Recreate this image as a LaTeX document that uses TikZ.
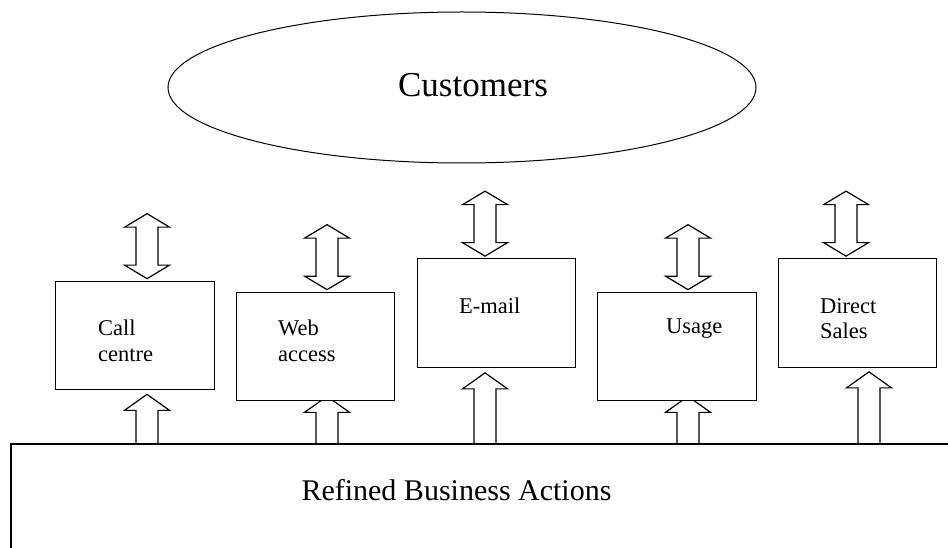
\documentclass[tikz,border=0pt]{standalone}
\usepackage{fontspec}
\setmainfont{Liberation Serif}
\usetikzlibrary{shapes.geometric, calc, backgrounds}

\begin{document}
\begin{tikzpicture}[x=1pt, y=-1pt,
	chanbox/.style={draw, fill=white, line width=1.2pt, minimum width=158.5pt, minimum height=108.5pt, inner sep=0pt},
	chantext/.style={anchor=north west, inner sep=0pt, align=left, font=\fontsize{22.5}{26}\selectfont},
	block/.style={draw, line width=1.2pt},
	upblock/.style={to path={let \p1=(\tikztostart), \p2=(\tikztotarget) in
		(\x2-11pt,\y1) -- (\x2-11pt,\y2-16pt) -- (\x2-22.5pt,\y2-16pt) -- (\x2,\y2)
		-- (\x2+22.5pt,\y2-16pt) -- (\x2+11pt,\y2-16pt) -- (\x2+11pt,\y1)}},
	dblblock/.style={to path={let \p1=(\tikztostart), \p2=(\tikztotarget) in
		(\x1,\y1) -- (\x1-22.5pt,\y1+13.5pt) -- (\x1-11pt,\y1+13.5pt) -- (\x1-11pt,\y2-13.5pt)
		-- (\x1-22.5pt,\y2-13.5pt) -- (\x1,\y2) -- (\x1+22.5pt,\y2-13.5pt) -- (\x1+11pt,\y2-13.5pt)
		-- (\x1+11pt,\y1+13.5pt) -- (\x1+22.5pt,\y1+13.5pt) -- cycle}}]
	\useasboundingbox (0,0) rectangle (948,548);
	\clip (0,0) rectangle (948,548);
	\node[ellipse, draw, line width=1pt, minimum width=588pt, minimum height=151pt, inner sep=0pt] (cust) at (462,87.5) {};
	\node[anchor=base, font=\fontsize{35}{42}\selectfont] (custtext) at (473,97) {Customers};
	\node[chanbox] (call) at (135,335.5) {};
	\node[chanbox] (web) at (315.5,346.5) {};
	\node[chanbox] (email) at (496.5,313) {};
	\node[chanbox] (usage) at (677,346.5) {};
	\node[chanbox] (direct) at (857.5,313) {};
	\node[chantext] (calltext) at (98,320) {Call\\centre};
	\node[chantext] (webtext) at (278,320) {Web\\access};
	\node[chantext] (emailtext) at (459,298) {E-mail};
	\node[chantext] (usagetext) at (666,319) {Usage};
	\node[chantext, font=\fontsize{22.5}{25}\selectfont] (directtext) at (820,298) {Direct\\Sales};
	\node[draw, line width=1.2pt, minimum width=959pt, minimum height=136pt, inner sep=0pt] (rba) at (490.5,512) {};
	\node[anchor=base, font=\fontsize{30}{36}\selectfont] (rbatext) at (456.5,500) {Refined Business Actions};
	\begin{scope}[on background layer]
		\draw[block, dblblock] ([xshift=12pt, yshift=2pt]call.north) to ([xshift=12pt, yshift=67pt]call.north);
		\draw[block, dblblock] ([xshift=11.5pt, yshift=2pt]web.north) to ([xshift=11.5pt, yshift=67pt]web.north);
		\draw[block, dblblock] ([xshift=-11.5pt, yshift=2pt]email.north) to ([xshift=-11.5pt, yshift=67pt]email.north);
		\draw[block, dblblock] ([xshift=11pt, yshift=2pt]usage.north) to ([xshift=11pt, yshift=67pt]usage.north);
		\draw[block, dblblock] ([xshift=-11.5pt, yshift=2pt]direct.north) to ([xshift=-11.5pt, yshift=67pt]direct.north);
		\draw[block, upblock] (rba.north) to ([xshift=12pt, yshift=-4pt]call.south);
		\draw[block, upblock] (rba.north) to ([xshift=11.5pt, yshift=5pt]web.south);
		\draw[block, upblock] (rba.north) to ([xshift=-11.5pt, yshift=-5pt]email.south);
		\draw[block, upblock] (rba.north) to ([xshift=11pt, yshift=5pt]usage.south);
		\draw[block, upblock] (rba.north) to ([xshift=11.5pt, yshift=-4pt]direct.south);
	\end{scope}
\end{tikzpicture}
\end{document}
